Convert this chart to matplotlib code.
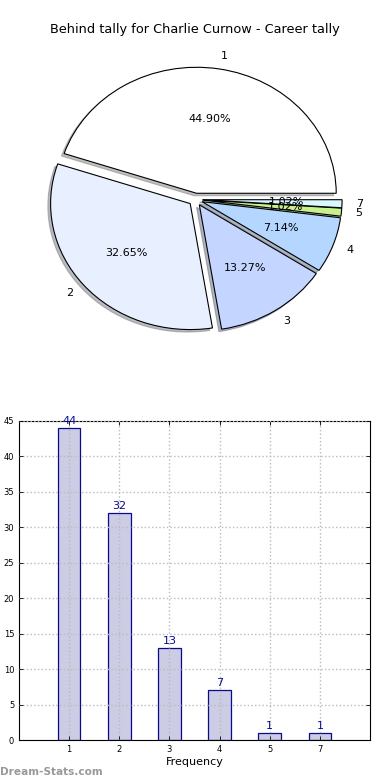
'''
Pie and bar chart of the behind tally for Charlie Curnow
'''

import matplotlib
matplotlib.use('Agg')
import matplotlib.pyplot as plt
import numpy


TITLE = 'Behind tally for Charlie Curnow - Career tally'
tallies = ['1', '2', '3', '4', '5', '7']
counts = [44, 32, 13, 7, 1, 1]
slice_colors = ['#ffffff', '#e8f0ff', '#c4d6ff', '#b4d6ff', '#c8f08c', '#d8f8ff']


fig = plt.figure(figsize=(3.9, 7.8), dpi=100)

# pie, old style (not forced circular)
ax_pie = fig.add_axes([21 / 390., (780 - 357) / 780., 349 / 390., 315 / 780.])
wedges, texts, autotexts = ax_pie.pie(
    counts, labels=tallies, colors=slice_colors, autopct='%1.2f%%',
    explode=[0.05] * len(counts),
    shadow={'ox': -0.014, 'oy': -0.014, 'shade': 0.5},
    wedgeprops={'linewidth': 0.8, 'edgecolor': 'black'},
    textprops={'fontsize': 8})
ax_pie.set_aspect('auto')
ax_pie.set_xlim(-1.25, 1.25)
ax_pie.set_ylim(-1.25, 1.25)
fig.text(0.5, 1 - 30 / 780., TITLE, ha='center', va='center', fontsize=9.3)

# bar chart of the same counts
ax_bar = fig.add_axes([19 / 390., 40 / 780., 351 / 390., 319 / 780.])
pos = numpy.arange(1, len(counts) + 1)
ax_bar.bar(pos, counts, width=0.45, color='#ccccE4', edgecolor='#0a0a8c',
           linewidth=0.9)
for x, v in zip(pos, counts):
    ax_bar.text(x, v + 0.3, str(v), ha='center', va='bottom', fontsize=8,
                color='#0a0a8c')
ax_bar.set_xlim(0, len(counts) + 1)
ax_bar.set_ylim(0, 45)
ax_bar.set_xticks(pos)
ax_bar.set_xticklabels(tallies)
ax_bar.set_yticks(range(0, 46, 5))
ax_bar.tick_params(labelsize=6, direction='in', top=True, right=True,
                   length=3, width=0.6)
ax_bar.set_xlabel('Frequency', fontsize=8, labelpad=2)
ax_bar.grid(True, linestyle=':', color='#bbbbbb', linewidth=1)
ax_bar.set_axisbelow(False)

fig.text(0.0, 3 / 780., 'Dream-Stats.com', ha='left', va='bottom',
         fontsize=7.6, color='#999999', fontweight='bold')

fig.savefig('out.png', dpi=100)
